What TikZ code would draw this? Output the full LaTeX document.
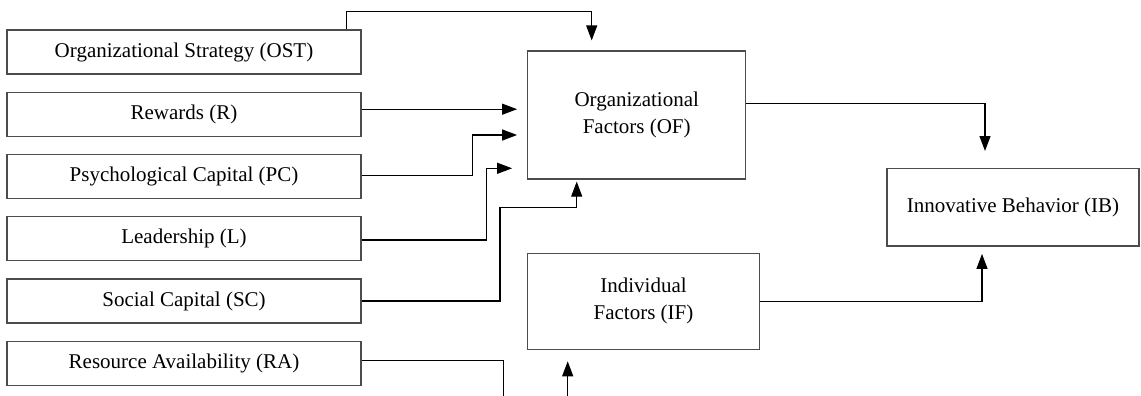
\documentclass[tikz,border=0pt]{standalone}
\usepackage{fontspec}
\setmainfont{Liberation Serif}
\usetikzlibrary{arrows.meta}
\tikzset{
  every picture/.style={line width=0.6pt},
  box/.style={draw=black!70, align=center, inner sep=3pt, font=\fontsize{10.5}{13.5}\selectfont},
  arrow/.style={-{Triangle[length=7.5pt, width=5.5pt]}, draw=black},
}

\begin{document}
\begin{tikzpicture}[x=0.5pt, y=-0.5pt,
  fact/.style={box, minimum width=177pt, minimum height=22pt}]
  \useasboundingbox (0,0) rectangle (1141,396);
  % antecedents
  \node[fact] (ost) at (184, 52) {Organizational Strategy (OST)};
  \node[fact] (rew) at (184, 114.4) {Rewards (R)};
  \node[fact] (psy) at (184, 176.6) {Psychological Capital (PC)};
  \node[fact] (lead) at (184, 238.8) {Leadership (L)};
  \node[fact] (soc) at (184, 301) {Social Capital (SC)};
  \node[fact] (res) at (184, 363.2) {Resource Availability (RA)};
  % factors and outcome
  \node[box, minimum width=109pt, minimum height=64pt] (orgf) at (636.7, 115) {Organizational\\Factors (OF)};
  \node[box, minimum width=115.8pt, minimum height=48pt] (indf) at (643.5, 301.3) {Individual\\Factors (IF)};
  \node[box, minimum width=126pt, minimum height=38.7pt] (innov) at (1013, 207.3) {Innovative Behavior (IB)};
  \coordinate (resout) at (503.7, 396);
  \coordinate (indin) at (567.7, 396);
  % connectors
  \draw[arrow, shorten >=5pt] ([xshift=-7.5pt]ost.north east) -- ++(0,-18.3) -| ([xshift=-22.5pt]orgf.north);
  \draw[arrow, shorten >=5pt] ([yshift=2.6pt]rew.east) -- ([yshift=2.6pt]rew.east -| orgf.west);
  \draw[arrow, shorten >=5pt] ([yshift=0.75pt]psy.east) -- ++(110.7,0) |- ([yshift=-10pt]orgf.west);
  \draw[arrow, shorten >=7.5pt] ([yshift=-0.6pt]lead.east) -- ++(124.7,0) |- ([yshift=-26.65pt]orgf.west);
  \draw[arrow, shorten >=1pt] (soc.east) -- ++(138.3,0) -- ++(0,-93.3) -| ([xshift=-30pt]orgf.south);
  \draw ([yshift=1.25pt]res.east) -| (resout);
  \draw[arrow, shorten >=5.7pt] (indin) -- (indin |- indf.south);
  \draw[arrow, shorten >=8.5pt] ([yshift=5.85pt]orgf.east) -| ([xshift=-14pt]innov.north);
  \draw[arrow, shorten >=3.65pt] (indf.east) -| ([xshift=-15.5pt]innov.south);
\end{tikzpicture}
\end{document}
